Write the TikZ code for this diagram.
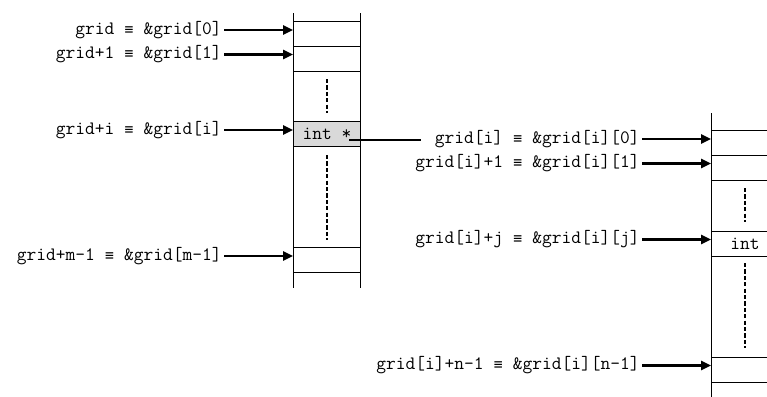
\documentclass[tikz,border=0pt]{standalone}
\usepackage{fontspec}
\usetikzlibrary{arrows.meta}
\definecolor{cellgray}{HTML}{D9D9D9}
\newfontfamily\symfont{DejaVu Sans Mono}
% one monospace cell holding the equivalence sign
\newcommand\eqv{\makebox[0.525em]{\symfont\fontsize{11}{12}\selectfont ≡}}
\begin{document}
\begin{tikzpicture}[x=0.75pt,y=-0.75pt,
  code/.style={font=\fontsize{14.2}{16}\selectfont\ttfamily},
  lbl/.style={code,anchor=east,inner sep=0pt},
  cell/.style={code,draw,line width=0.85pt,minimum width=50.25pt,
    minimum height=18.75pt,inner sep=0pt,anchor=north west},
  rail/.style={line width=0.75pt},
  gap/.style={line width=1.5pt,dash pattern=on 3.2pt off 1.6pt},
  ptrarrow/.style={line width=1.8pt,shorten <=1.5pt,
    -{Triangle[length=7.5pt,width=6.8pt]}},
  link/.style={line width=1.2pt}]
\useasboundingbox (0,0) rectangle (767,396);
\clip (0,0) rectangle (767,396);

% ---- array of row pointers: grid[0] .. grid[m-1]
\draw[rail] (293,13) -- (293,288);
\draw[rail] (360,13) -- (360,288);
\node[cell] (c0) at (293,21) {};
\node[cell] (c1) at (293,46) {};
\node[cell,fill=cellgray] (ci) at (293,121) {};
\node[code,inner sep=0pt] (ptr) at (ci.center) {int *};
\node[cell] (cm) at (293,247) {};
\draw[gap] (326.5,79) -- (326.5,113);
\draw[gap] (326.5,155) -- (326.5,240);

\node[lbl] (l0) at (222,30) {grid \eqv{} \&grid[0]};
\node[lbl] (l1) at (222,54.5) {grid+1 \eqv{} \&grid[1]};
\node[lbl] (li) at (222,130) {grid+i \eqv{} \&grid[i]};
\node[lbl] (lm) at (222,256) {grid+m-1 \eqv{} \&grid[m-1]};
\draw[ptrarrow] (l0.east) -- (l0.east -| c0.west);
\draw[ptrarrow] (l1.east) -- (l1.east -| c1.west);
\draw[ptrarrow] (li.east) -- (li.east -| ci.west);
\draw[ptrarrow] (lm.east) -- (lm.east -| cm.west);

% ---- row i: grid[i][0] .. grid[i][n-1]
\draw[rail] (711,113) -- (711,400);
\draw[rail] (778,113) -- (778,400);
\node[cell] (d0) at (711,130) {};
\node[cell] (d1) at (711,155) {};
\node[cell] (dj) at (711,231) {int};
\node[cell] (dn) at (711,357) {};
\draw[gap] (744.5,188) -- (744.5,222);
\draw[gap] (744.5,263) -- (744.5,348);

\node[lbl] (r0) at (640,139) {grid[i] \eqv{} \&grid[i][0]};
\node[lbl] (r1) at (640,163.5) {grid[i]+1 \eqv{} \&grid[i][1]};
\node[lbl] (rj) at (640,239.5) {grid[i]+j \eqv{} \&grid[i][j]};
\node[lbl] (rn) at (640,365.5) {grid[i]+n-1 \eqv{} \&grid[i][n-1]};
\draw[ptrarrow] (r0.east) -- (r0.east -| d0.west);
\draw[ptrarrow] (r1.east) -- (r1.east -| d1.west);
\draw[ptrarrow] (rj.east) -- (rj.east -| dj.west);
\draw[ptrarrow] (rn.east) -- (rn.east -| dn.west);

% the pointer stored in grid[i] leads to row i
\draw[link,shorten >=10pt] ([xshift=-2pt]ptr.base east) -- (ptr.base east -| r0.west);
\end{tikzpicture}
\end{document}
